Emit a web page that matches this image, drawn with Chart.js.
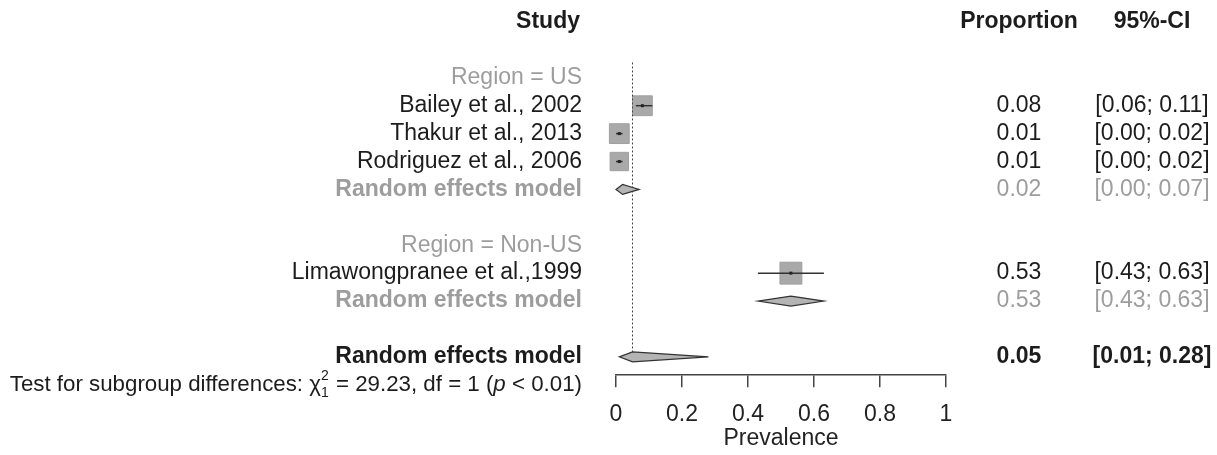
<!DOCTYPE html>
<html>
<head>
<meta charset="utf-8">
<script src="https://cdn.jsdelivr.net/npm/chart.js@4.4.1/dist/chart.umd.min.js"></script>
<style>
    html, body { margin: 0; padding: 0; background: #fff; }
    #wrap { width: 1217px; height: 455px; position: relative; }
</style>
</head>
<body>
<div id="wrap"><canvas id="forestChart"></canvas></div>
<script>
// Forest plot data (row index = line in the plot, top to bottom)
const studyLabels = ['Bailey et al., 2002', 'Thakur et al., 2013', 'Rodriguez et al., 2006', 'Limawongpranee et al.,1999'];
const studyRows = [3, 4, 5, 9];
const studyProp = [0.08, 0.01, 0.01, 0.53];
const studyLower = [0.06, 0.00, 0.00, 0.43];
const studyUpper = [0.11, 0.02, 0.02, 0.63];

const subgroupLabels = ['Region = US', 'Region = Non-US'];
const subgroupRows = [2, 8];

const pooledLabels = ['Random effects model', 'Random effects model', 'Random effects model'];
const pooledRows = [6, 10, 12];
const pooledProp = [0.02, 0.53, 0.05];
const pooledLower = [0.00, 0.43, 0.01];
const pooledUpper = [0.07, 0.63, 0.28];

const xTicks = [0, 0.2, 0.4, 0.6, 0.8, 1];

const FONT = "'Liberation Sans', Arial, Helvetica, sans-serif";
const FS = 23;
const BLACK = '#1c1c1c';
const GREY = '#9d9d9d';

const boxData = studyProp.map(function(p, i) { return { x: p, y: studyRows[i] }; });

const forestDecor = {
    id: 'forestDecor',
    afterDatasetsDraw: function(chart) {
        const ctx = chart.ctx;
        const xs = chart.scales.x;
        const ys = chart.scales.y;
        ctx.save();

        // overall estimate reference line (dotted)
        const overall = pooledProp[pooledProp.length - 1];
        const lx = Math.round(xs.getPixelForValue(overall)) - 0.5;
        ctx.strokeStyle = '#444';
        ctx.lineWidth = 1;
        ctx.setLineDash([2, 2]);
        ctx.beginPath();
        ctx.moveTo(lx, ys.getPixelForValue(1.45));
        ctx.lineTo(lx, ys.getPixelForValue(11.85));
        ctx.stroke();
        ctx.setLineDash([]);

        // confidence intervals
        ctx.strokeStyle = '#333';
        ctx.lineWidth = 1.5;
        studyRows.forEach(function(r, i) {
            const y = ys.getPixelForValue(r);
            ctx.beginPath();
            ctx.moveTo(xs.getPixelForValue(studyLower[i]), y);
            ctx.lineTo(xs.getPixelForValue(studyUpper[i]), y);
            ctx.stroke();
            ctx.fillStyle = '#222';
            ctx.fillRect(xs.getPixelForValue(studyProp[i]) - 1.5, y - 1.5, 3, 3);
        });

        // pooled diamonds
        pooledRows.forEach(function(r, i) {
            const y = ys.getPixelForValue(r);
            const h = 5;
            ctx.beginPath();
            ctx.moveTo(xs.getPixelForValue(pooledLower[i]), y);
            ctx.lineTo(xs.getPixelForValue(pooledProp[i]), y - h);
            ctx.lineTo(xs.getPixelForValue(pooledUpper[i]), y);
            ctx.lineTo(xs.getPixelForValue(pooledProp[i]), y + h);
            ctx.closePath();
            ctx.fillStyle = '#b4b4b4';
            ctx.fill();
            ctx.strokeStyle = '#333';
            ctx.lineWidth = 1.2;
            ctx.stroke();
        });
        ctx.restore();
    },
    afterDraw: function(chart) {
        const ctx = chart.ctx;
        const ys = chart.scales.y;
        const leftX = 582, propX = 1019, ciX = 1152;
        const fmt = function(v) { return v.toFixed(2); };
        const ci = function(lo, hi) { return '[' + fmt(lo) + '; ' + fmt(hi) + ']'; };
        ctx.save();
        ctx.textBaseline = 'middle';

        function put(text, x, row, align, color, bold) {
            ctx.font = (bold ? 'bold ' : '') + FS + 'px ' + FONT;
            ctx.fillStyle = color;
            ctx.textAlign = align;
            ctx.fillText(text, x, ys.getPixelForValue(row));
        }

        // headers
        put('Study', 580, 0, 'right', BLACK, true);
        put('Proportion', propX, 0, 'center', BLACK, true);
        put('95%-CI', ciX, 0, 'center', BLACK, true);

        subgroupLabels.forEach(function(t, i) { put(t, leftX, subgroupRows[i], 'right', GREY, false); });

        studyLabels.forEach(function(t, i) {
            put(t, leftX, studyRows[i], 'right', BLACK, false);
            put(fmt(studyProp[i]), propX, studyRows[i], 'center', BLACK, false);
            put(ci(studyLower[i], studyUpper[i]), ciX, studyRows[i], 'center', BLACK, false);
        });

        pooledLabels.forEach(function(t, i) {
            const last = i === pooledLabels.length - 1;
            const col = last ? BLACK : GREY;
            put(t, leftX, pooledRows[i], 'right', col, true);
            put(fmt(pooledProp[i]), propX, pooledRows[i], 'center', col, last);
            put(ci(pooledLower[i], pooledUpper[i]), ciX, pooledRows[i], 'center', col, last);
        });

        // heterogeneity test line with chi-square super/subscripts
        const y = ys.getPixelForValue(13);
        const big = '22.3px ' + FONT, small = '14px ' + FONT, ital = 'italic 22.3px ' + FONT;
        const parts = [
            { t: 'Test for subgroup differences: \u03c7', f: big },
            { t: '2', f: small, stack: '1' },
            { t: ' = 29.23, df = 1 (', f: big },
            { t: 'p', f: ital },
            { t: ' < 0.01)', f: big }
        ];
        let total = 0;
        parts.forEach(function(p) { ctx.font = p.f; p.w = ctx.measureText(p.t).width + (p.stack ? 1 : 0); total += p.w; });
        let x = leftX - total;
        ctx.textAlign = 'left';
        ctx.fillStyle = BLACK;
        parts.forEach(function(p) {
            ctx.font = p.f;
            if (p.stack) {
                ctx.fillText(p.t, x, y - 9);
                ctx.fillText(p.stack, x, y + 8);
            } else {
                ctx.fillText(p.t, x, y);
            }
            x += p.w;
        });
        ctx.restore();
    }
};

const ctx = document.getElementById('forestChart').getContext('2d');
const forestChart = new Chart(ctx, {
    type: 'scatter',
    data: {
        datasets: [{
            label: 'Studies',
            data: boxData,
            pointStyle: 'rect',
            pointRadius: [14, 14, 13, 15.5],
            backgroundColor: '#a9a9a9',
            borderColor: '#a0a0a0',
            borderWidth: 1,
            clip: false
        }]
    },
    options: {
        responsive: true,
        maintainAspectRatio: false,
        animation: false,
        events: [],
        layout: {
            padding: { left: 616, right: 271, top: 22, bottom: 1 }
        },
        scales: {
            x: {
                type: 'linear',
                min: 0,
                max: 1,
                afterBuildTicks: function(axis) {
                    axis.ticks = xTicks.map(function(v) { return { value: v }; });
                },
                grid: {
                    drawOnChartArea: false,
                    drawTicks: true,
                    tickLength: 13,
                    color: '#444',
                    lineWidth: 1.5
                },
                border: { color: '#444', width: 1.5 },
                ticks: {
                    color: '#222',
                    padding: 14,
                    maxRotation: 0,
                    font: { family: FONT, size: FS },
                    callback: function(v) { return (v === 0 || v === 1) ? String(v) : v.toFixed(1); }
                },
                title: {
                    display: true,
                    text: 'Prevalence',
                    color: '#222',
                    padding: { top: -18.5, bottom: 2 },
                    font: { family: FONT, size: FS }
                }
            },
            y: {
                type: 'linear',
                reverse: true,
                min: 0,
                max: 12.625,
                display: false
            }
        },
        plugins: {
            legend: { display: false },
            tooltip: { enabled: false }
        }
    },
    plugins: [forestDecor]
});
</script>
</body>
</html>
